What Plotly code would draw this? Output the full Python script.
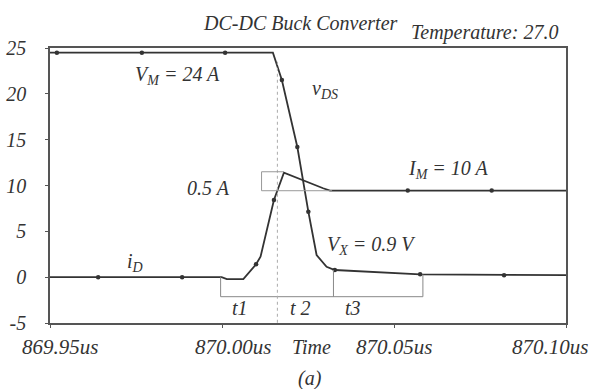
import plotly.graph_objects as go

T0 = 869.95  # us, start of window

# ---- data (time offsets in ns from 869.95 us) ----
vds_ns = [0.0, 64.8, 67.4, 71.9, 75.1, 77.5, 80.4, 82.8, 107.6, 132.0, 150.0]
vds_val = [24.49, 24.49, 21.5, 14.2, 7.14, 2.42, 1.14, 0.78, 0.31, 0.22, 0.22]
vds_mk_ns = [2.0, 26.7, 50.9, 67.4, 71.9, 75.1, 82.8, 107.6, 132.0]
vds_mk_val = [24.49, 24.49, 24.49, 21.5, 14.2, 7.14, 0.78, 0.31, 0.22]

id_ns = [0.0, 49.9, 51.4, 56.2, 59.9, 61.2, 65.1, 68.0, 79.4, 81.4, 150.0]
id_val = [0.0, 0.0, -0.22, -0.22, 1.4, 2.23, 8.42, 11.4, 9.7, 9.45, 9.45]
id_mk_ns = [14.0, 38.4, 59.9, 65.1, 104.0, 128.4]
id_mk_val = [0.0, 0.0, 1.4, 8.42, 9.45, 9.45]

xtick_vals = [869.95, 870.00, 870.05, 870.10]
xtick_text = ["869.95us", "870.00us", "870.05us", "870.10us"]
xtick_shift = [10, 11, 0, -16]
ytick_vals = [-5, 0, 5, 10, 15, 20, 25]
ytick_text = ["-5", "0", "5", "10", "15", "20", "25"]

# interval markers (ns offsets)
t_edges_ns = [49.6, 66.1, 82.4, 108.4]
bracket_y = -2.13
box_ns = [61.5, 68.0, 82.0]
box_y = [9.43, 11.5]

def us(ns_list):
    return [T0 + v / 1000.0 for v in ns_list]

LINE = "#333333"
TXT = "#333333"
FONT = "Liberation Serif"

fig = go.Figure()
fig.add_trace(go.Scatter(x=us(vds_ns), y=vds_val, mode="lines",
                         line=dict(color=LINE, width=1.8), hoverinfo="skip"))
fig.add_trace(go.Scatter(x=us(id_ns), y=id_val, mode="lines",
                         line=dict(color=LINE, width=1.8), hoverinfo="skip"))
fig.add_trace(go.Scatter(x=us(vds_mk_ns) + us(id_mk_ns), y=vds_mk_val + id_mk_val,
                         mode="markers", marker=dict(color=LINE, size=4.5),
                         hoverinfo="skip"))

shapes = []
gray = "#888888"
shapes.append(dict(type="line", xref="x", yref="y", x0=T0 + t_edges_ns[0] / 1000, x1=T0 + t_edges_ns[3] / 1000,
                   y0=bracket_y, y1=bracket_y, line=dict(color=gray, width=1)))
for ns, ytop in zip([t_edges_ns[0], t_edges_ns[2], t_edges_ns[3]], [0.0, 0.78, 0.3]):
    shapes.append(dict(type="line", xref="x", yref="y", x0=T0 + ns / 1000, x1=T0 + ns / 1000,
                       y0=ytop, y1=bracket_y, line=dict(color=gray, width=1)))
shapes.append(dict(type="line", xref="x", yref="y", x0=T0 + t_edges_ns[1] / 1000, x1=T0 + t_edges_ns[1] / 1000,
                   y0=23.5, y1=-5, line=dict(color="#aaaaaa", width=1, dash="dot")))
bx = [T0 + v / 1000 for v in box_ns]
shapes.append(dict(type="path", xref="x", yref="y",
                   path=f"M {bx[1]},{box_y[1]} L {bx[0]},{box_y[1]} L {bx[0]},{box_y[0]} L {bx[2]},{box_y[0]}",
                   line=dict(color="#999999", width=1)))

ann_font = dict(family=FONT, size=20, color=TXT, style="italic")
anns = [
    dict(x=T0 + 0.0372, y=22.05, text="<i>V<sub>M</sub> = 24 A</i>", xanchor="center"),
    dict(x=T0 + 0.0756, y=20.5, text="<i>v<sub>DS</sub></i>", xanchor="left"),
    dict(x=T0 + 0.0462, y=9.73, text="<i>0.5 A</i>", xanchor="center"),
    dict(x=T0 + 0.1157, y=11.7, text="<i>I<sub>M</sub> = 10 A</i>", xanchor="center"),
    dict(x=T0 + 0.0936, y=3.5, text="<i>V<sub>X</sub> = 0.9 V</i>", xanchor="center"),
    dict(x=T0 + 0.0218, y=1.65, text="<i>i<sub>D</sub></i>", xanchor="left"),
    dict(x=T0 + 0.0552, y=-3.36, text="<i>t1</i>", xanchor="center"),
    dict(x=T0 + 0.0727, y=-3.36, text="<i>t 2</i>", xanchor="center"),
    dict(x=T0 + 0.0881, y=-3.36, text="<i>t3</i>", xanchor="center"),
]
annotations = []
for a in anns:
    d = dict(xref="x", yref="y", showarrow=False, yanchor="middle", font=ann_font)
    d.update(a)
    annotations.append(d)
# x tick labels
for v, t, s in zip(xtick_vals, xtick_text, xtick_shift):
    annotations.append(dict(xref="x", yref="paper", x=v, y=0, xshift=s, yshift=-24,
                            xanchor="center", yanchor="middle",
                            text=f"<i>{t}</i>", showarrow=False,
                            font=dict(family=FONT, size=21, color=TXT, style="italic")))
annotations.append(dict(xref="x", yref="paper", x=T0 + 0.0759, y=0, yshift=-24,
                        xanchor="center", yanchor="middle",
                        text="<i>Time</i>", showarrow=False, font=ann_font))
annotations.append(dict(xref="x", yref="paper", x=T0 + 0.0757, y=0, yshift=-55,
                        xanchor="center", yanchor="middle",
                        text="<i>(a)</i>", showarrow=False, font=ann_font))
annotations.append(dict(xref="paper", yref="paper", x=0.4845, y=1, yshift=25,
                        xanchor="center", yanchor="middle",
                        text="<i>DC-DC Buck Converter</i>", showarrow=False, font=ann_font))
annotations.append(dict(xref="paper", yref="paper", x=0.843, y=1, yshift=16,
                        xanchor="center", yanchor="middle",
                        text="<i>Temperature: 27.0</i>", showarrow=False, font=ann_font))

fig.update_layout(
    width=591, height=389,
    margin=dict(l=50, r=25, t=48, b=66),
    paper_bgcolor="white", plot_bgcolor="white",
    showlegend=False,
    shapes=shapes, annotations=annotations,
    xaxis=dict(range=[869.95, 870.10], tickvals=xtick_vals, showticklabels=False,
               automargin=False,
               showgrid=False, zeroline=False, showline=True, mirror=True,
               linecolor="#555555", linewidth=1.5, ticks="outside", ticklen=3,
               tickcolor="#555555"),
    yaxis=dict(range=[-5, 25], tickvals=ytick_vals, ticktext=ytick_text, automargin=False,
               showgrid=False, zeroline=False, showline=True, mirror=True,
               linecolor="#555555", linewidth=1.5, ticks="outside", ticklen=3,
               tickcolor="#555555", ticklabelstandoff=15,
               tickfont=dict(family=FONT, size=20, color=TXT, style="italic")),
)

fig.write_html("out.html")
